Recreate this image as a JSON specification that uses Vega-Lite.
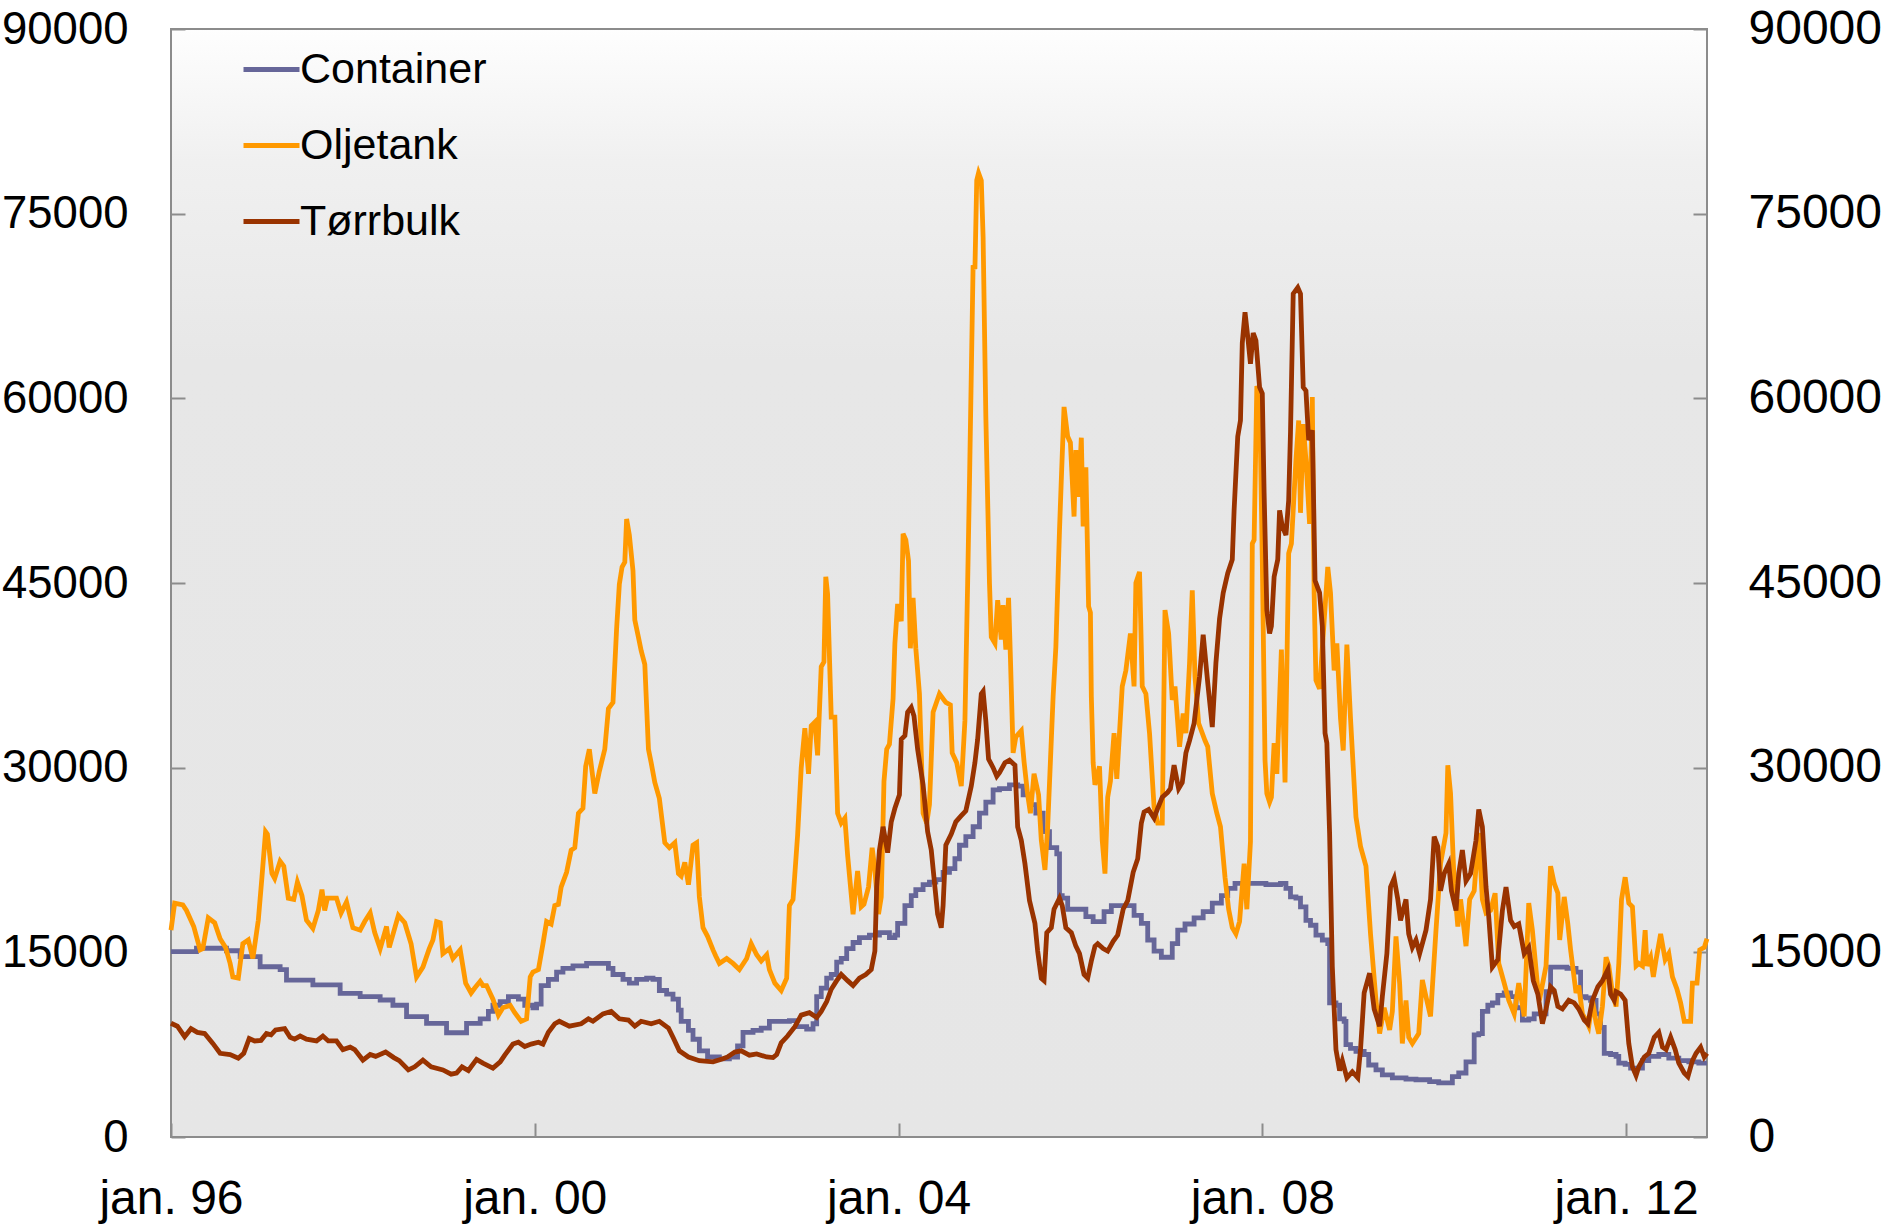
{
"$schema": "https://vega.github.io/schema/vega-lite/v6.json",
"width": 1536, "height": 1108,
"autosize": {"type": "none"},
"padding": {"left": 171, "top": 29, "right": 176, "bottom": 89},
"background": "white",
"config": {
  "font": "Liberation Sans",
  "view": {"stroke": "#8c8c8c", "strokeWidth": 2,
    "fill": {"gradient": "linear", "x1": 0, "y1": 0, "x2": 0, "y2": 1,
      "stops": [{"offset": 0, "color": "#fefefe"}, {"offset": 0.12, "color": "#f0f0f0"}, {"offset": 0.3, "color": "#e7e7e7"}, {"offset": 1, "color": "#e6e6e6"}]}}
},
"datasets": {
"Container": [
{"year":1996.00,"value":15050},{"year":1996.28,"value":15330},{"year":1996.61,"value":15130},{"year":1996.76,"value":14650},{"year":1996.98,"value":13830},{"year":1997.20,"value":13600},{"year":1997.27,"value":12750},{"year":1997.56,"value":12350},{"year":1997.86,"value":11670},{"year":1998.08,"value":11400},{"year":1998.30,"value":11130},{"year":1998.44,"value":10700},{"year":1998.59,"value":9770},{"year":1998.81,"value":9230},{"year":1999.03,"value":8470},{"year":1999.25,"value":9230},{"year":1999.40,"value":9600},{"year":1999.49,"value":10200},{"year":1999.54,"value":10700},{"year":1999.62,"value":11000},{"year":1999.71,"value":11400},{"year":1999.82,"value":11200},{"year":1999.89,"value":10700},{"year":1999.98,"value":10500},{"year":2000.02,"value":10800},{"year":2000.07,"value":12300},{"year":2000.15,"value":12800},{"year":2000.24,"value":13400},{"year":2000.31,"value":13700},{"year":2000.42,"value":13900},{"year":2000.57,"value":14100},{"year":2000.71,"value":14100},{"year":2000.81,"value":13700},{"year":2000.86,"value":13200},{"year":2000.97,"value":12800},{"year":2001.04,"value":12500},{"year":2001.12,"value":12800},{"year":2001.23,"value":12900},{"year":2001.30,"value":12800},{"year":2001.37,"value":11900},{"year":2001.45,"value":11600},{"year":2001.52,"value":11200},{"year":2001.58,"value":10300},{"year":2001.61,"value":9400},{"year":2001.69,"value":8660},{"year":2001.74,"value":7940},{"year":2001.81,"value":7000},{"year":2001.90,"value":6500},{"year":2002.03,"value":6350},{"year":2002.14,"value":6500},{"year":2002.23,"value":7400},{"year":2002.29,"value":8500},{"year":2002.40,"value":8660},{"year":2002.49,"value":8850},{"year":2002.58,"value":9400},{"year":2002.69,"value":9400},{"year":2002.80,"value":9450},{"year":2002.88,"value":8960},{"year":2002.99,"value":8770},{"year":2003.06,"value":9200},{"year":2003.10,"value":11400},{"year":2003.15,"value":12100},{"year":2003.21,"value":12900},{"year":2003.26,"value":13200},{"year":2003.32,"value":14200},{"year":2003.37,"value":14500},{"year":2003.43,"value":15300},{"year":2003.50,"value":15800},{"year":2003.57,"value":16200},{"year":2003.68,"value":16400},{"year":2003.79,"value":16600},{"year":2003.90,"value":16200},{"year":2003.96,"value":16400},{"year":2003.99,"value":17350},{"year":2004.07,"value":18800},{"year":2004.14,"value":19600},{"year":2004.19,"value":20100},{"year":2004.27,"value":20500},{"year":2004.34,"value":20700},{"year":2004.41,"value":20900},{"year":2004.49,"value":21500},{"year":2004.56,"value":21800},{"year":2004.62,"value":22600},{"year":2004.67,"value":23700},{"year":2004.74,"value":24400},{"year":2004.82,"value":25200},{"year":2004.89,"value":26300},{"year":2004.96,"value":27200},{"year":2005.04,"value":28200},{"year":2005.11,"value":28300},{"year":2005.22,"value":28600},{"year":2005.31,"value":28500},{"year":2005.37,"value":27800},{"year":2005.44,"value":27000},{"year":2005.51,"value":26300},{"year":2005.59,"value":24800},{"year":2005.66,"value":23500},{"year":2005.74,"value":23000},{"year":2005.77,"value":19600},{"year":2005.80,"value":19400},{"year":2005.86,"value":18500},{"year":2005.99,"value":18500},{"year":2006.06,"value":17900},{"year":2006.14,"value":17500},{"year":2006.21,"value":17500},{"year":2006.26,"value":18300},{"year":2006.34,"value":18800},{"year":2006.52,"value":18800},{"year":2006.59,"value":18000},{"year":2006.67,"value":17350},{"year":2006.74,"value":16000},{"year":2006.81,"value":15100},{"year":2006.89,"value":14600},{"year":2006.96,"value":14600},{"year":2007.01,"value":15700},{"year":2007.07,"value":16800},{"year":2007.15,"value":17300},{"year":2007.25,"value":17800},{"year":2007.35,"value":18300},{"year":2007.45,"value":19000},{"year":2007.55,"value":19600},{"year":2007.62,"value":20200},{"year":2007.70,"value":20600},{"year":2008.04,"value":20500},{"year":2008.20,"value":20600},{"year":2008.26,"value":20200},{"year":2008.31,"value":19500},{"year":2008.37,"value":19400},{"year":2008.42,"value":18700},{"year":2008.48,"value":17600},{"year":2008.53,"value":17200},{"year":2008.59,"value":16400},{"year":2008.66,"value":16000},{"year":2008.72,"value":15700},{"year":2008.74,"value":10900},{"year":2008.81,"value":10700},{"year":2008.85,"value":9600},{"year":2008.90,"value":9400},{"year":2008.92,"value":7500},{"year":2008.97,"value":7200},{"year":2009.03,"value":6950},{"year":2009.12,"value":6700},{"year":2009.17,"value":5850},{"year":2009.25,"value":5450},{"year":2009.32,"value":5040},{"year":2009.43,"value":4800},{"year":2009.58,"value":4700},{"year":2009.69,"value":4650},{"year":2009.84,"value":4500},{"year":2009.94,"value":4400},{"year":2010.05,"value":4400},{"year":2010.09,"value":4900},{"year":2010.16,"value":5200},{"year":2010.24,"value":6100},{"year":2010.29,"value":6100},{"year":2010.33,"value":8300},{"year":2010.38,"value":8400},{"year":2010.42,"value":10200},{"year":2010.48,"value":10700},{"year":2010.53,"value":10900},{"year":2010.59,"value":11500},{"year":2010.66,"value":11700},{"year":2010.73,"value":11400},{"year":2010.79,"value":10500},{"year":2010.86,"value":9500},{"year":2010.93,"value":9600},{"year":2010.99,"value":10000},{"year":2011.04,"value":10000},{"year":2011.12,"value":11800},{"year":2011.17,"value":13800},{"year":2011.26,"value":13800},{"year":2011.35,"value":13700},{"year":2011.45,"value":13400},{"year":2011.50,"value":11400},{"year":2011.56,"value":11300},{"year":2011.61,"value":11100},{"year":2011.67,"value":10000},{"year":2011.72,"value":8900},{"year":2011.76,"value":6800},{"year":2011.83,"value":6700},{"year":2011.89,"value":6550},{"year":2011.92,"value":6000},{"year":2011.99,"value":5900},{"year":2012.05,"value":5600},{"year":2012.12,"value":5600},{"year":2012.18,"value":6200},{"year":2012.25,"value":6550},{"year":2012.36,"value":6700},{"year":2012.47,"value":6400},{"year":2012.58,"value":6200},{"year":2012.69,"value":6100},{"year":2012.80,"value":6000},{"year":2012.89,"value":6000}
],
"Oljetank": [
{"year":1996.00,"value":16800},{"year":1996.04,"value":19000},{"year":1996.13,"value":18850},{"year":1996.17,"value":18400},{"year":1996.25,"value":17100},{"year":1996.32,"value":15200},{"year":1996.35,"value":15300},{"year":1996.41,"value":17800},{"year":1996.48,"value":17400},{"year":1996.54,"value":16100},{"year":1996.60,"value":15400},{"year":1996.65,"value":14100},{"year":1996.68,"value":13000},{"year":1996.74,"value":12900},{"year":1996.79,"value":15700},{"year":1996.85,"value":16000},{"year":1996.90,"value":14500},{"year":1996.96,"value":17600},{"year":1997.00,"value":21100},{"year":1997.04,"value":24800},{"year":1997.06,"value":24600},{"year":1997.11,"value":21400},{"year":1997.14,"value":21000},{"year":1997.20,"value":22400},{"year":1997.24,"value":22000},{"year":1997.29,"value":19400},{"year":1997.35,"value":19300},{"year":1997.39,"value":20700},{"year":1997.44,"value":19600},{"year":1997.49,"value":17600},{"year":1997.56,"value":16950},{"year":1997.62,"value":18400},{"year":1997.66,"value":20100},{"year":1997.69,"value":18400},{"year":1997.72,"value":19400},{"year":1997.82,"value":19400},{"year":1997.87,"value":18200},{"year":1997.93,"value":19100},{"year":1998.00,"value":17000},{"year":1998.08,"value":16800},{"year":1998.13,"value":17500},{"year":1998.19,"value":18200},{"year":1998.24,"value":16600},{"year":1998.30,"value":15300},{"year":1998.37,"value":17100},{"year":1998.40,"value":15400},{"year":1998.50,"value":18000},{"year":1998.57,"value":17400},{"year":1998.64,"value":15700},{"year":1998.70,"value":13000},{"year":1998.77,"value":13800},{"year":1998.84,"value":15300},{"year":1998.88,"value":16000},{"year":1998.92,"value":17500},{"year":1998.96,"value":17400},{"year":1998.99,"value":14900},{"year":1999.06,"value":15300},{"year":1999.10,"value":14500},{"year":1999.18,"value":15200},{"year":1999.24,"value":12500},{"year":1999.30,"value":11700},{"year":1999.34,"value":12100},{"year":1999.40,"value":12650},{"year":1999.43,"value":12300},{"year":1999.47,"value":12300},{"year":1999.54,"value":11200},{"year":1999.60,"value":9900},{"year":1999.65,"value":10500},{"year":1999.73,"value":10700},{"year":1999.78,"value":10100},{"year":1999.85,"value":9400},{"year":1999.91,"value":9600},{"year":1999.95,"value":13000},{"year":1999.98,"value":13400},{"year":2000.04,"value":13600},{"year":2000.09,"value":15700},{"year":2000.13,"value":17500},{"year":2000.18,"value":17300},{"year":2000.22,"value":18800},{"year":2000.26,"value":18900},{"year":2000.29,"value":20300},{"year":2000.35,"value":21500},{"year":2000.40,"value":23300},{"year":2000.44,"value":23500},{"year":2000.48,"value":26300},{"year":2000.53,"value":26700},{"year":2000.56,"value":30100},{"year":2000.60,"value":31500},{"year":2000.66,"value":27900},{"year":2000.71,"value":29700},{"year":2000.77,"value":31500},{"year":2000.81,"value":34800},{"year":2000.86,"value":35300},{"year":2000.90,"value":41300},{"year":2000.93,"value":44900},{"year":2000.96,"value":46300},{"year":2000.99,"value":46700},{"year":2001.01,"value":50200},{"year":2001.04,"value":48900},{"year":2001.08,"value":46000},{"year":2001.10,"value":42000},{"year":2001.14,"value":40600},{"year":2001.17,"value":39500},{"year":2001.21,"value":38400},{"year":2001.25,"value":31500},{"year":2001.28,"value":30400},{"year":2001.32,"value":28800},{"year":2001.37,"value":27500},{"year":2001.43,"value":23900},{"year":2001.48,"value":23500},{"year":2001.54,"value":23900},{"year":2001.58,"value":21400},{"year":2001.61,"value":21200},{"year":2001.65,"value":22300},{"year":2001.69,"value":20500},{"year":2001.74,"value":23700},{"year":2001.78,"value":23900},{"year":2001.81,"value":19500},{"year":2001.85,"value":17000},{"year":2001.90,"value":16300},{"year":2001.96,"value":15200},{"year":2001.99,"value":14700},{"year":2002.03,"value":14100},{"year":2002.11,"value":14500},{"year":2002.18,"value":14100},{"year":2002.25,"value":13600},{"year":2002.33,"value":14500},{"year":2002.38,"value":15700},{"year":2002.44,"value":14800},{"year":2002.49,"value":14300},{"year":2002.55,"value":14800},{"year":2002.58,"value":13600},{"year":2002.64,"value":12500},{"year":2002.71,"value":11900},{"year":2002.77,"value":12900},{"year":2002.80,"value":18800},{"year":2002.84,"value":19300},{"year":2002.89,"value":24500},{"year":2002.93,"value":30000},{"year":2002.97,"value":33200},{"year":2003.01,"value":29500},{"year":2003.04,"value":33400},{"year":2003.08,"value":33700},{"year":2003.11,"value":31000},{"year":2003.15,"value":38200},{"year":2003.18,"value":38600},{"year":2003.20,"value":45500},{"year":2003.22,"value":44100},{"year":2003.26,"value":34100},{"year":2003.30,"value":34100},{"year":2003.33,"value":26300},{"year":2003.37,"value":25500},{"year":2003.41,"value":25900},{"year":2003.44,"value":22900},{"year":2003.50,"value":18100},{"year":2003.55,"value":21600},{"year":2003.59,"value":18700},{"year":2003.62,"value":18900},{"year":2003.67,"value":20300},{"year":2003.71,"value":23500},{"year":2003.74,"value":21700},{"year":2003.78,"value":18100},{"year":2003.81,"value":19500},{"year":2003.84,"value":28900},{"year":2003.87,"value":31500},{"year":2003.90,"value":31900},{"year":2003.94,"value":35600},{"year":2003.96,"value":40100},{"year":2003.99,"value":43300},{"year":2004.03,"value":41900},{"year":2004.05,"value":49000},{"year":2004.08,"value":48500},{"year":2004.11,"value":46800},{"year":2004.13,"value":39700},{"year":2004.16,"value":43800},{"year":2004.19,"value":39700},{"year":2004.23,"value":36000},{"year":2004.27,"value":26300},{"year":2004.31,"value":25500},{"year":2004.34,"value":27000},{"year":2004.38,"value":34500},{"year":2004.45,"value":36000},{"year":2004.52,"value":35300},{"year":2004.57,"value":35100},{"year":2004.59,"value":31200},{"year":2004.64,"value":30400},{"year":2004.69,"value":28500},{"year":2004.73,"value":33800},{"year":2004.76,"value":45000},{"year":2004.78,"value":53100},{"year":2004.82,"value":70800},{"year":2004.84,"value":70500},{"year":2004.86,"value":77700},{"year":2004.88,"value":78300},{"year":2004.91,"value":77700},{"year":2004.93,"value":73100},{"year":2004.96,"value":58500},{"year":2005.00,"value":45000},{"year":2005.02,"value":40600},{"year":2005.06,"value":40100},{"year":2005.09,"value":43600},{"year":2005.13,"value":40400},{"year":2005.15,"value":43200},{"year":2005.18,"value":39600},{"year":2005.21,"value":43800},{"year":2005.23,"value":39000},{"year":2005.26,"value":31200},{"year":2005.29,"value":32500},{"year":2005.35,"value":33000},{"year":2005.38,"value":30500},{"year":2005.42,"value":27800},{"year":2005.45,"value":26300},{"year":2005.49,"value":29500},{"year":2005.54,"value":27800},{"year":2005.57,"value":24100},{"year":2005.61,"value":21700},{"year":2005.64,"value":25200},{"year":2005.70,"value":35800},{"year":2005.73,"value":39800},{"year":2005.77,"value":49300},{"year":2005.79,"value":53400},{"year":2005.82,"value":59300},{"year":2005.86,"value":56900},{"year":2005.89,"value":56400},{"year":2005.93,"value":50400},{"year":2005.95,"value":55800},{"year":2005.98,"value":52000},{"year":2006.01,"value":56800},{"year":2006.03,"value":49600},{"year":2006.06,"value":54400},{"year":2006.09,"value":43100},{"year":2006.11,"value":42600},{"year":2006.12,"value":35800},{"year":2006.14,"value":30400},{"year":2006.16,"value":28600},{"year":2006.21,"value":30100},{"year":2006.24,"value":24100},{"year":2006.27,"value":21400},{"year":2006.30,"value":27600},{"year":2006.33,"value":28900},{"year":2006.37,"value":32800},{"year":2006.40,"value":29100},{"year":2006.46,"value":36600},{"year":2006.50,"value":37900},{"year":2006.55,"value":40900},{"year":2006.59,"value":36600},{"year":2006.61,"value":45000},{"year":2006.65,"value":45900},{"year":2006.68,"value":36600},{"year":2006.72,"value":36000},{"year":2006.76,"value":32800},{"year":2006.81,"value":26800},{"year":2006.85,"value":25500},{"year":2006.90,"value":25500},{"year":2006.93,"value":42800},{"year":2006.97,"value":40900},{"year":2007.01,"value":35500},{"year":2007.04,"value":36600},{"year":2007.09,"value":31700},{"year":2007.13,"value":34400},{"year":2007.16,"value":32800},{"year":2007.20,"value":38500},{"year":2007.23,"value":44400},{"year":2007.26,"value":37400},{"year":2007.30,"value":33600},{"year":2007.37,"value":32200},{"year":2007.40,"value":31700},{"year":2007.45,"value":27900},{"year":2007.50,"value":26300},{"year":2007.54,"value":25200},{"year":2007.59,"value":21100},{"year":2007.63,"value":18500},{"year":2007.67,"value":17000},{"year":2007.71,"value":16500},{"year":2007.75,"value":17500},{"year":2007.80,"value":22200},{"year":2007.83,"value":18500},{"year":2007.87,"value":24000},{"year":2007.89,"value":48200},{"year":2007.91,"value":48500},{"year":2007.94,"value":61000},{"year":2007.97,"value":60400},{"year":2008.00,"value":46900},{"year":2008.03,"value":30600},{"year":2008.05,"value":27900},{"year":2008.08,"value":27200},{"year":2008.10,"value":27600},{"year":2008.13,"value":32000},{"year":2008.16,"value":29500},{"year":2008.21,"value":39600},{"year":2008.25,"value":28800},{"year":2008.29,"value":47400},{"year":2008.32,"value":48200},{"year":2008.37,"value":55000},{"year":2008.40,"value":58200},{"year":2008.42,"value":50700},{"year":2008.45,"value":57900},{"year":2008.48,"value":55000},{"year":2008.52,"value":49800},{"year":2008.55,"value":60100},{"year":2008.57,"value":44200},{"year":2008.59,"value":37100},{"year":2008.63,"value":36400},{"year":2008.72,"value":46300},{"year":2008.75,"value":44200},{"year":2008.79,"value":37900},{"year":2008.82,"value":40100},{"year":2008.86,"value":34000},{"year":2008.89,"value":31400},{"year":2008.93,"value":40000},{"year":2008.97,"value":34000},{"year":2009.03,"value":26000},{"year":2009.08,"value":23600},{"year":2009.14,"value":22000},{"year":2009.19,"value":16500},{"year":2009.25,"value":11100},{"year":2009.29,"value":8400},{"year":2009.34,"value":10500},{"year":2009.40,"value":8700},{"year":2009.43,"value":10200},{"year":2009.47,"value":16300},{"year":2009.51,"value":12500},{"year":2009.54,"value":7600},{"year":2009.58,"value":11100},{"year":2009.61,"value":8100},{"year":2009.65,"value":7600},{"year":2009.72,"value":8400},{"year":2009.76,"value":12750},{"year":2009.80,"value":11400},{"year":2009.85,"value":9800},{"year":2009.91,"value":16800},{"year":2009.96,"value":22200},{"year":2010.02,"value":24700},{"year":2010.04,"value":30200},{"year":2010.07,"value":27900},{"year":2010.11,"value":20600},{"year":2010.15,"value":17100},{"year":2010.18,"value":19300},{"year":2010.24,"value":15500},{"year":2010.28,"value":19300},{"year":2010.33,"value":20000},{"year":2010.38,"value":24700},{"year":2010.42,"value":19300},{"year":2010.46,"value":18200},{"year":2010.51,"value":18400},{"year":2010.56,"value":19800},{"year":2010.60,"value":14100},{"year":2010.66,"value":12500},{"year":2010.71,"value":11100},{"year":2010.77,"value":10000},{"year":2010.82,"value":12500},{"year":2010.88,"value":9800},{"year":2010.93,"value":19000},{"year":2010.97,"value":16800},{"year":2011.03,"value":12000},{"year":2011.06,"value":11600},{"year":2011.12,"value":13900},{"year":2011.17,"value":22000},{"year":2011.21,"value":20600},{"year":2011.25,"value":19800},{"year":2011.27,"value":16000},{"year":2011.32,"value":19500},{"year":2011.36,"value":17300},{"year":2011.39,"value":15200},{"year":2011.45,"value":11700},{"year":2011.48,"value":12300},{"year":2011.52,"value":10000},{"year":2011.56,"value":9500},{"year":2011.59,"value":9000},{"year":2011.63,"value":11100},{"year":2011.67,"value":9300},{"year":2011.70,"value":8400},{"year":2011.74,"value":10600},{"year":2011.78,"value":14600},{"year":2011.81,"value":13900},{"year":2011.85,"value":11700},{"year":2011.89,"value":10600},{"year":2011.92,"value":14100},{"year":2011.95,"value":19300},{"year":2011.99,"value":21100},{"year":2012.03,"value":19000},{"year":2012.07,"value":18700},{"year":2012.11,"value":13900},{"year":2012.14,"value":14100},{"year":2012.18,"value":13900},{"year":2012.21,"value":16800},{"year":2012.23,"value":13900},{"year":2012.27,"value":14600},{"year":2012.30,"value":13000},{"year":2012.33,"value":14400},{"year":2012.38,"value":16500},{"year":2012.43,"value":14400},{"year":2012.47,"value":14900},{"year":2012.51,"value":13000},{"year":2012.56,"value":12000},{"year":2012.60,"value":10900},{"year":2012.64,"value":9400},{"year":2012.71,"value":9400},{"year":2012.73,"value":12500},{"year":2012.78,"value":12500},{"year":2012.81,"value":15200},{"year":2012.86,"value":15400},{"year":2012.89,"value":16100}
],
"Tørrbulk": [
{"year":1996.00,"value":9240},{"year":1996.07,"value":9000},{"year":1996.15,"value":8150},{"year":1996.22,"value":8800},{"year":1996.29,"value":8500},{"year":1996.37,"value":8400},{"year":1996.46,"value":7600},{"year":1996.54,"value":6800},{"year":1996.65,"value":6700},{"year":1996.74,"value":6400},{"year":1996.80,"value":6800},{"year":1996.86,"value":8000},{"year":1996.92,"value":7800},{"year":1996.99,"value":7850},{"year":1997.05,"value":8400},{"year":1997.10,"value":8300},{"year":1997.15,"value":8700},{"year":1997.25,"value":8800},{"year":1997.31,"value":8100},{"year":1997.36,"value":7950},{"year":1997.42,"value":8200},{"year":1997.49,"value":7950},{"year":1997.60,"value":7800},{"year":1997.67,"value":8200},{"year":1997.73,"value":7800},{"year":1997.82,"value":7800},{"year":1997.89,"value":7100},{"year":1997.97,"value":7300},{"year":1998.02,"value":7100},{"year":1998.11,"value":6250},{"year":1998.19,"value":6700},{"year":1998.25,"value":6550},{"year":1998.36,"value":6900},{"year":1998.45,"value":6450},{"year":1998.51,"value":6200},{"year":1998.61,"value":5450},{"year":1998.68,"value":5700},{"year":1998.77,"value":6250},{"year":1998.86,"value":5700},{"year":1998.99,"value":5450},{"year":1999.08,"value":5100},{"year":1999.14,"value":5200},{"year":1999.20,"value":5700},{"year":1999.27,"value":5400},{"year":1999.36,"value":6300},{"year":1999.43,"value":6000},{"year":1999.54,"value":5600},{"year":1999.62,"value":6100},{"year":1999.67,"value":6650},{"year":1999.76,"value":7550},{"year":1999.82,"value":7700},{"year":1999.89,"value":7350},{"year":1999.96,"value":7550},{"year":2000.04,"value":7700},{"year":2000.09,"value":7550},{"year":2000.15,"value":8500},{"year":2000.22,"value":9200},{"year":2000.27,"value":9400},{"year":2000.38,"value":9000},{"year":2000.51,"value":9200},{"year":2000.59,"value":9600},{"year":2000.64,"value":9400},{"year":2000.75,"value":10000},{"year":2000.84,"value":10200},{"year":2000.93,"value":9600},{"year":2001.03,"value":9500},{"year":2001.10,"value":9000},{"year":2001.17,"value":9400},{"year":2001.28,"value":9200},{"year":2001.37,"value":9400},{"year":2001.47,"value":8850},{"year":2001.52,"value":8100},{"year":2001.59,"value":7000},{"year":2001.69,"value":6500},{"year":2001.81,"value":6200},{"year":2001.96,"value":6100},{"year":2002.07,"value":6350},{"year":2002.12,"value":6500},{"year":2002.20,"value":6900},{"year":2002.27,"value":7000},{"year":2002.36,"value":6650},{"year":2002.44,"value":6750},{"year":2002.55,"value":6500},{"year":2002.62,"value":6450},{"year":2002.66,"value":6700},{"year":2002.71,"value":7650},{"year":2002.78,"value":8200},{"year":2002.86,"value":8960},{"year":2002.93,"value":9900},{"year":2003.02,"value":10100},{"year":2003.10,"value":9700},{"year":2003.15,"value":10200},{"year":2003.21,"value":11000},{"year":2003.26,"value":12000},{"year":2003.32,"value":12700},{"year":2003.37,"value":13200},{"year":2003.44,"value":12700},{"year":2003.50,"value":12300},{"year":2003.57,"value":12900},{"year":2003.64,"value":13200},{"year":2003.70,"value":13600},{"year":2003.74,"value":15100},{"year":2003.76,"value":20300},{"year":2003.79,"value":23300},{"year":2003.83,"value":25200},{"year":2003.88,"value":23100},{"year":2003.92,"value":25600},{"year":2003.96,"value":26700},{"year":2004.01,"value":27800},{"year":2004.03,"value":32300},{"year":2004.07,"value":32600},{"year":2004.10,"value":34500},{"year":2004.14,"value":34900},{"year":2004.17,"value":34200},{"year":2004.21,"value":31500},{"year":2004.27,"value":28600},{"year":2004.32,"value":24800},{"year":2004.36,"value":23300},{"year":2004.40,"value":20300},{"year":2004.43,"value":18100},{"year":2004.47,"value":17000},{"year":2004.49,"value":18800},{"year":2004.52,"value":23700},{"year":2004.58,"value":24600},{"year":2004.63,"value":25600},{"year":2004.69,"value":26100},{"year":2004.74,"value":26500},{"year":2004.80,"value":28500},{"year":2004.84,"value":30400},{"year":2004.87,"value":32300},{"year":2004.91,"value":36000},{"year":2004.93,"value":36200},{"year":2004.96,"value":33800},{"year":2004.99,"value":30700},{"year":2005.04,"value":30000},{"year":2005.08,"value":29300},{"year":2005.11,"value":29600},{"year":2005.17,"value":30400},{"year":2005.22,"value":30600},{"year":2005.28,"value":30200},{"year":2005.31,"value":25200},{"year":2005.35,"value":24100},{"year":2005.39,"value":22200},{"year":2005.44,"value":19200},{"year":2005.50,"value":17350},{"year":2005.53,"value":15100},{"year":2005.57,"value":12900},{"year":2005.60,"value":12700},{"year":2005.63,"value":16600},{"year":2005.68,"value":17000},{"year":2005.71,"value":18500},{"year":2005.77,"value":19400},{"year":2005.80,"value":18800},{"year":2005.84,"value":17000},{"year":2005.90,"value":16600},{"year":2005.95,"value":15500},{"year":2005.99,"value":14900},{"year":2006.04,"value":13200},{"year":2006.08,"value":12900},{"year":2006.12,"value":14300},{"year":2006.16,"value":15500},{"year":2006.19,"value":15700},{"year":2006.25,"value":15300},{"year":2006.30,"value":15100},{"year":2006.36,"value":15900},{"year":2006.41,"value":16400},{"year":2006.47,"value":18500},{"year":2006.52,"value":19200},{"year":2006.58,"value":21500},{"year":2006.63,"value":22600},{"year":2006.67,"value":25500},{"year":2006.70,"value":26400},{"year":2006.75,"value":26600},{"year":2006.81,"value":25900},{"year":2006.85,"value":26700},{"year":2006.90,"value":27600},{"year":2006.96,"value":28000},{"year":2006.99,"value":28300},{"year":2007.03,"value":30200},{"year":2007.08,"value":28300},{"year":2007.12,"value":28800},{"year":2007.16,"value":31200},{"year":2007.20,"value":32200},{"year":2007.25,"value":33600},{"year":2007.31,"value":37400},{"year":2007.35,"value":40800},{"year":2007.40,"value":36900},{"year":2007.45,"value":33300},{"year":2007.49,"value":38500},{"year":2007.53,"value":42100},{"year":2007.57,"value":44200},{"year":2007.62,"value":45800},{"year":2007.67,"value":46900},{"year":2007.69,"value":50900},{"year":2007.73,"value":56900},{"year":2007.76,"value":58200},{"year":2007.78,"value":64500},{"year":2007.81,"value":67000},{"year":2007.84,"value":65000},{"year":2007.87,"value":62800},{"year":2007.90,"value":65300},{"year":2007.93,"value":64700},{"year":2007.97,"value":60900},{"year":2008.00,"value":60400},{"year":2008.02,"value":52300},{"year":2008.05,"value":42800},{"year":2008.08,"value":40900},{"year":2008.10,"value":41500},{"year":2008.13,"value":45500},{"year":2008.17,"value":46900},{"year":2008.19,"value":50900},{"year":2008.22,"value":49600},{"year":2008.26,"value":48900},{"year":2008.29,"value":51700},{"year":2008.31,"value":57200},{"year":2008.34,"value":68500},{"year":2008.39,"value":69000},{"year":2008.42,"value":68500},{"year":2008.45,"value":60900},{"year":2008.48,"value":60600},{"year":2008.51,"value":56600},{"year":2008.55,"value":57400},{"year":2008.58,"value":45200},{"year":2008.63,"value":44200},{"year":2008.66,"value":41500},{"year":2008.69,"value":32800},{"year":2008.71,"value":32000},{"year":2008.74,"value":24700},{"year":2008.77,"value":13800},{"year":2008.81,"value":7100},{"year":2008.85,"value":5400},{"year":2008.88,"value":6200},{"year":2008.93,"value":4800},{"year":2008.99,"value":5300},{"year":2009.05,"value":4800},{"year":2009.08,"value":7100},{"year":2009.12,"value":11700},{"year":2009.18,"value":13300},{"year":2009.23,"value":10400},{"year":2009.29,"value":9000},{"year":2009.32,"value":11400},{"year":2009.37,"value":14900},{"year":2009.41,"value":20300},{"year":2009.45,"value":21000},{"year":2009.49,"value":19300},{"year":2009.52,"value":17600},{"year":2009.58,"value":19300},{"year":2009.61,"value":16500},{"year":2009.65,"value":15400},{"year":2009.69,"value":16000},{"year":2009.73,"value":14900},{"year":2009.80,"value":16800},{"year":2009.85,"value":19300},{"year":2009.89,"value":24400},{"year":2009.93,"value":23600},{"year":2009.96,"value":20000},{"year":2010.00,"value":21400},{"year":2010.05,"value":22200},{"year":2010.08,"value":20000},{"year":2010.13,"value":18400},{"year":2010.16,"value":21400},{"year":2010.20,"value":23300},{"year":2010.24,"value":20800},{"year":2010.29,"value":21400},{"year":2010.35,"value":24100},{"year":2010.38,"value":26600},{"year":2010.42,"value":25200},{"year":2010.46,"value":20300},{"year":2010.49,"value":17900},{"year":2010.53,"value":13800},{"year":2010.59,"value":14400},{"year":2010.64,"value":18400},{"year":2010.68,"value":20300},{"year":2010.73,"value":17600},{"year":2010.77,"value":17100},{"year":2010.82,"value":17300},{"year":2010.88,"value":14900},{"year":2010.93,"value":15400},{"year":2010.98,"value":12700},{"year":2011.03,"value":11600},{"year":2011.08,"value":9200},{"year":2011.12,"value":10400},{"year":2011.17,"value":12200},{"year":2011.21,"value":11900},{"year":2011.25,"value":10600},{"year":2011.30,"value":10400},{"year":2011.37,"value":11100},{"year":2011.43,"value":10900},{"year":2011.48,"value":10400},{"year":2011.54,"value":9500},{"year":2011.58,"value":9200},{"year":2011.63,"value":11100},{"year":2011.69,"value":12200},{"year":2011.74,"value":12700},{"year":2011.80,"value":13600},{"year":2011.83,"value":11600},{"year":2011.87,"value":11100},{"year":2011.89,"value":11800},{"year":2011.94,"value":11600},{"year":2011.99,"value":11100},{"year":2012.03,"value":7600},{"year":2012.07,"value":5700},{"year":2012.11,"value":5000},{"year":2012.14,"value":5700},{"year":2012.20,"value":6500},{"year":2012.25,"value":6800},{"year":2012.31,"value":8100},{"year":2012.36,"value":8500},{"year":2012.40,"value":7300},{"year":2012.44,"value":7100},{"year":2012.49,"value":8100},{"year":2012.54,"value":7100},{"year":2012.58,"value":6000},{"year":2012.64,"value":5200},{"year":2012.68,"value":4900},{"year":2012.73,"value":6200},{"year":2012.77,"value":6800},{"year":2012.82,"value":7300},{"year":2012.86,"value":6500},{"year":2012.89,"value":6800}
]
},
"encoding": {
  "x": {"field": "year", "type": "quantitative",
    "scale": {"domain": [1996, 2012.89], "nice": false, "zero": false},
    "axis": {"values": [1996, 2000, 2004, 2008, 2012], "labelExpr": "'jan. ' + substring(toString(datum.value), 2, 4)",
      "title": null, "grid": false, "domain": false, "tickSize": -14, "tickWidth": 2, "tickColor": "#8c8c8c",
      "labelPadding": 52, "labelFontSize": 48, "labelFont": "Liberation Sans", "labelColor": "#000000", "labelFlush": false}},
  "color": {"type": "nominal",
    "scale": {"domain": ["Container", "Oljetank", "Tørrbulk"], "range": ["#666699", "#FF9900", "#993300"]},
    "legend": {"orient": "none", "legendX": 70, "legendY": 10, "title": null, "symbolType": "stroke", "symbolSize": 3136,
      "symbolStrokeWidth": 5, "labelFontSize": 43, "labelFont": "Liberation Sans", "labelColor": "#000000",
      "labelOffset": -2, "labelLimit": 600, "rowPadding": 23, "padding": 0}}
},
"layer": [
  {"data": {"name": "Container"},
   "mark": {"type": "line", "interpolate": "step-after", "strokeWidth": 4.8},
   "encoding": {"color": {"datum": "Container"},
     "y": {"field": "value", "type": "quantitative", "scale": {"domain": [0, 90000], "nice": false},
       "axis": {"orient": "left", "values": [0, 15000, 30000, 45000, 60000, 75000, 90000], "format": "d", "title": null,
         "grid": false, "domain": false, "tickSize": -14, "tickWidth": 2, "tickColor": "#8c8c8c", "labelPadding": 57,
         "labelFontSize": 45.5, "labelFont": "Liberation Sans", "labelColor": "#000000", "labelFlush": false}}}},
  {"data": {"name": "Oljetank"},
   "mark": {"type": "line", "strokeWidth": 4.8},
   "encoding": {"color": {"datum": "Oljetank"},
     "y": {"field": "value", "type": "quantitative", "axis": null}}},
  {"data": {"name": "Tørrbulk"},
   "mark": {"type": "line", "strokeWidth": 4.8},
   "encoding": {"color": {"datum": "Tørrbulk"},
     "y": {"field": "value", "type": "quantitative",
       "axis": {"orient": "right", "values": [0, 15000, 30000, 45000, 60000, 75000, 90000], "format": "d", "title": null,
         "grid": false, "domain": false, "tickSize": -14, "tickWidth": 2, "tickColor": "#8c8c8c", "labelPadding": 55,
         "labelFontSize": 48, "labelFont": "Liberation Sans", "labelColor": "#000000", "labelFlush": false}}}}
],
"resolve": {"axis": {"y": "independent"}}
}
